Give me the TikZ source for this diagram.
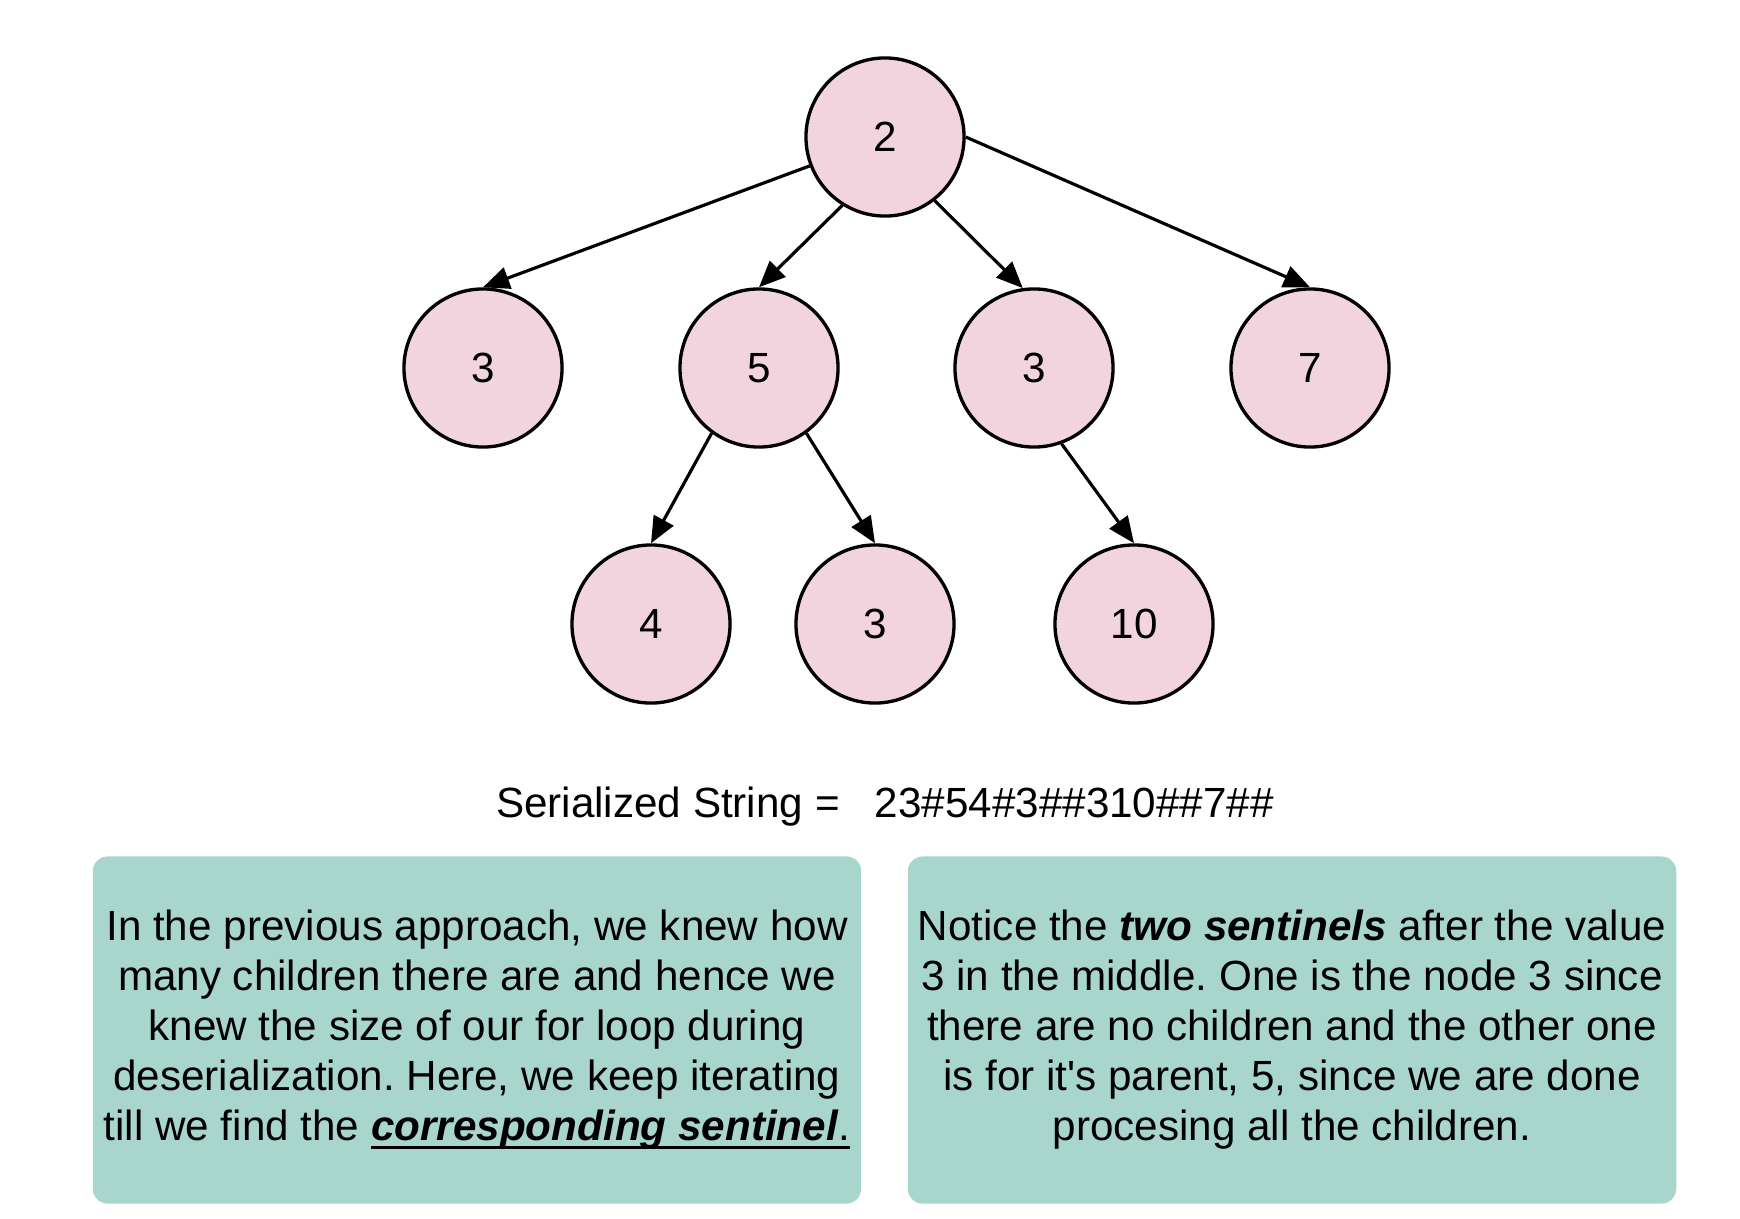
\documentclass[tikz,border=0pt]{standalone}
\usepackage{fontspec}
\setmainfont{Liberation Sans}
\usetikzlibrary{arrows.meta}
\definecolor{nodepink}{HTML}{F2D4DF}
\definecolor{noteteal}{HTML}{A8D5CC}
\newcommand{\lowline}[1]{\setbox0\hbox{#1}\rlap{\rule[-2.3pt]{\wd0}{0.8pt}}\box0}
\frenchspacing

\begin{document}
\begin{tikzpicture}[x=0.01cm,y=-0.01cm,
    treenode/.style={circle, draw, line width=0.95pt, fill=nodepink, minimum size=1.58cm, inner sep=0pt, font=\fontsize{12}{14.4}\selectfont},
    notebox/.style={fill=noteteal, rounded corners=0.15cm, minimum width=7.68cm, minimum height=3.47cm, inner sep=0pt, align=center, font=\fontsize{12}{14.22}\selectfont},
    >={Triangle[length=7.5pt,width=6.3pt]}, line width=0.9pt]
      \useasboundingbox (0,0) rectangle (1740,1218);
      \node[treenode] (root) at (885,137) {2};
      \node[treenode] (A) at (483,368) {3};
      \node[treenode] (B) at (759,368) {5};
      \node[treenode] (C) at (1034,368) {3};
      \node[treenode] (D) at (1310,368) {7};
      \node[treenode] (BA) at (651,624) {4};
      \node[treenode] (BB) at (875,624) {3};
      \node[treenode] (CA) at (1134,624) {10};
      \path (root.201) edge [->] (A.north);
      \path (root.238) edge [->] (B.north);
      \path (root.308) edge [->] (C.98);
      \path (root.east) edge [->] (D.north);
      \path (B.234) edge [->] (BA.north);
      \path (B.306) edge [->] (BB.north);
      \path (C.290) edge [->] (CA.north);
      \node[anchor=base, font=\fontsize{12}{14.22}\selectfont] (serial) at (885,817) {Serialized String = \ \ 23\#54\#3\#\#310\#\#7\#\#};
      \node[notebox] (leftnote) at (477,1030) {In the previous approach, we knew how\\ many children there are and hence we\\ knew the size of our for loop during\\ deserialization. Here, we keep iterating\\ till we find the \lowline{\textbf{\textit{corresponding sentinel}}.}};
      \node[notebox] (rightnote) at (1292,1030) {Notice the \textbf{\textit{two sentinels}} after the value\\ 3 in the middle. One is the node 3 since\\ there are no children and the other one\\ is for it\textquotesingle s parent, 5, since we are done\\ procesing all the children.};
    \end{tikzpicture}
\end{document}
